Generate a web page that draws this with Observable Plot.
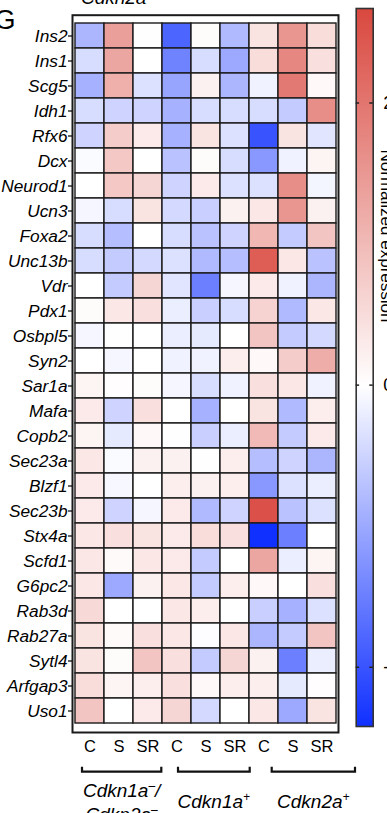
<!DOCTYPE html>
<html><head><meta charset="utf-8">
<script src="https://cdn.jsdelivr.net/npm/d3@7"></script>
<script src="https://cdn.jsdelivr.net/npm/@observablehq/plot@0.6"></script>
<style>
html,body{margin:0;padding:0;background:#fff;overflow:hidden;}
#wrap{position:relative;width:387px;height:813px;overflow:hidden;font-family:"Liberation Sans",Arial,sans-serif;}
#wrap svg{position:absolute;left:0;top:0;overflow:visible;}
</style></head><body><div id="wrap"></div>
<script>
// ---- data ----
const genes = ["Ins2","Ins1","Scg5","Idh1","Rfx6","Dcx","Neurod1","Ucn3","Foxa2","Unc13b","Vdr","Pdx1","Osbpl5","Syn2","Sar1a","Mafa","Copb2","Sec23a","Blzf1","Sec23b","Stx4a","Scfd1","G6pc2","Rab3d","Rab27a","Sytl4","Arfgap3","Uso1"];
const conditions = ["C","S","SR"];
const groupNames = [["Cdkn1a","-","/"],["Cdkn1a","+",""],["Cdkn2a","+",""]];
const groupLine2 = [["Cdkn2a","-"],null,null];
const topCutLabel = ["Cdkn2a","-"];
const panelLetter = "G";
const legendTicks = [-2, 0, 2];
const legendTitle = "Normalized expression";
const colorMin = -2.42, colorMax = 2.67;
// z-scores: columns = C,S,SR for Cdkn1a-/Cdkn2a-, Cdkn1a+, Cdkn2a+
const zscores = [
 [-0.85, 1.40, 0.02, -1.80, 0.05, -0.80, 0.40, 1.55, 0.50],  // Ins2
 [-0.40, 1.30, 0.00, -1.45, -0.40, -1.00, 0.50, 1.75, 0.45], // Ins1
 [-0.90, 1.15, -0.35, -1.05, 0.20, -0.85, -0.15, 1.95, 0.10],// Scg5
 [-0.40, -0.50, -0.50, -0.90, -0.40, -0.40, -0.40, -0.60, 1.65], // Idh1
 [-0.50, 0.75, 0.30, -0.90, 0.40, -0.35, -2.00, 0.40, -0.30], // Rfx6
 [-0.05, 0.80, 0.00, -0.70, 0.05, -0.40, -1.20, -0.15, 0.15], // Dcx
 [0.00, 0.80, 0.60, -0.50, 0.30, -0.35, -0.35, 1.65, -0.12], // Neurod1
 [-0.10, -0.40, 0.40, -0.45, -0.55, 0.20, 0.35, 1.55, 0.20], // Ucn3
 [-0.40, -0.75, 0.00, -0.40, -0.70, -0.50, 1.05, -0.60, 0.85], // Foxa2
 [-0.40, -0.60, -0.45, -0.35, -0.80, -0.75, 2.35, 0.35, -0.70], // Unc13b
 [0.00, -0.60, 0.60, -0.30, -1.50, -0.10, 0.30, -0.15, -0.85], // Vdr
 [0.05, 0.35, 0.45, -0.20, -0.55, -0.40, 0.65, -0.80, 0.35], // Pdx1
 [-0.10, 0.02, 0.00, -0.20, -0.25, 0.00, 0.85, -0.60, -0.45], // Osbpl5
 [0.00, -0.10, 0.00, -0.15, -0.15, 0.25, 0.10, 0.75, 1.20], // Syn2
 [0.15, 0.03, 0.05, -0.10, -0.40, -0.15, 0.45, 0.35, -0.15], // Sar1a
 [0.30, -0.50, 0.45, 0.00, -0.90, 0.00, 0.40, -0.80, 0.25], // Mafa
 [0.15, -0.25, 0.10, 0.02, -0.55, -0.20, 1.00, -0.60, 0.30], // Copb2
 [0.35, -0.05, 0.20, 0.20, 0.02, 0.25, -0.75, -0.50, -0.85], // Sec23a
 [0.30, -0.08, 0.00, 0.25, 0.20, 0.25, -1.20, -0.35, -0.20], // Blzf1
 [0.30, -0.50, -0.10, 0.30, -0.80, -0.50, 2.55, -0.70, -0.35], // Sec23b
 [0.35, 0.45, 0.40, 0.30, 0.50, 0.45, -2.42, -1.50, 0.00], // Stx4a
 [0.35, 0.08, 0.35, 0.30, -0.60, 0.00, 1.30, -0.20, 0.15], // Scfd1
 [0.35, -1.00, 0.20, 0.35, -0.60, 0.25, 0.10, 0.00, 0.45], // G6pc2
 [0.55, 0.00, 0.00, 0.35, 0.25, 0.00, -0.55, -0.90, -0.35], // Rab3d
 [0.40, 0.08, 0.45, 0.35, -0.02, 0.35, -0.85, -0.60, 0.85], // Rab27a
 [0.40, 0.05, 0.85, 0.45, -0.60, 0.60, 0.20, -1.50, -0.20], // Sytl4
 [0.50, 0.15, 0.25, 0.45, 0.10, 0.25, 0.25, -0.25, 0.03], // Arfgap3
 [0.85, 0.00, 0.30, 0.60, -0.45, 0.00, 0.35, -1.00, 0.40]  // Uso1
];

// ---- build ----
const font = '"Liberation Sans", Arial, sans-serif';
const colKeys = groupNames.flatMap((g, gi) => conditions.map(c => c + "|" + gi));
const colLabel = d => d.split("|")[0];
const cells = genes.flatMap((g, i) => zscores[i].map((z, j) => ({gene: g, col: colKeys[j], z})));
const colorOpts = {type: "linear", domain: [colorMin, 0, colorMax], range: ["#1030ff", "#ffffff", "#d9483f"], clamp: true};

const main = Plot.plot({
  width: 387, height: 813,
  marginLeft: 72, marginRight: 49, marginTop: 14.7, marginBottom: 81,
  style: {fontFamily: font, background: "transparent", color: "#000"},
  x: {type: "band", domain: colKeys, padding: 0, label: null},
  y: {type: "band", domain: genes, padding: 0, label: null},
  color: colorOpts,
  marks: [
    Plot.cell(cells, {x: "col", y: "gene", fill: "z", stroke: "#1b1b1b", strokeWidth: 1.4}),
    Plot.frame({stroke: "#1b1b1b", strokeWidth: 2}),
    Plot.axisY({tickSize: 4, tickPadding: 1, fontSize: 17.3, fontStyle: "italic", strokeWidth: 1.2}),
    Plot.axisX({tickSize: 0, tickPadding: 8, fontSize: 16.5, tickFormat: colLabel})
  ]
});

const leg = Plot.plot({
  width: 387, height: 813,
  marginLeft: 355.7, marginRight: 14.3, marginTop: 8, marginBottom: 87,
  style: {fontFamily: font, background: "transparent", color: "#000"},
  x: {domain: [0, 1], axis: null},
  y: {domain: [colorMin, colorMax], axis: null},
  color: colorOpts,
  marks: [
    Plot.raster({fill: (x, y) => y, x1: 0, x2: 1, y1: colorMin, y2: colorMax, imageRendering: "auto"}),
    Plot.frame({stroke: "#333", strokeWidth: 1.6}),
    Plot.ruleY(legendTicks, {y: d => d, x1: 0, x2: 0.2, stroke: "#222", strokeWidth: 1.5}),
    Plot.ruleY(legendTicks, {y: d => d, x1: 0.8, x2: 1, stroke: "#222", strokeWidth: 1.5}),
    Plot.text(legendTicks, {y: d => d, frameAnchor: "right", dx: 10, textAnchor: "start", fontSize: 18, text: d => d < 0 ? "-" + Math.abs(d) : String(d)})
  ]
});

const wrap = document.getElementById("wrap");
wrap.appendChild(main);
wrap.appendChild(leg);

d3.select(main).selectAll('g[aria-label="y-axis tick label"] text').style("font-style", "italic");

const svg = d3.select(main);
const xs = main.scale("x");
const bw = xs.bandwidth;
// bracket layout offsets (pixels) relative to group band edges
const bracketOffsets = [[7, -0.7], [16, 0.7], [22.7, 19]];
const bracketY = 771.7;
function addLabel(g, x, y, parts) {
  const t = g.append("text").attr("x", x).attr("y", y).attr("text-anchor", "middle")
    .attr("font-size", 19).attr("font-style", "italic").attr("font-family", font).attr("fill", "#000");
  t.append("tspan").text(parts[0]);
  t.append("tspan").attr("font-size", 12).attr("dy", -7).text(parts[1] === "-" ? "\u2013" : parts[1]);
  if (parts[2]) t.append("tspan").attr("font-size", 19).attr("dy", 7).text(parts[2]);
}
const ann = svg.append("g");
groupNames.forEach((g, gi) => {
  const first = colKeys[gi * 3], last = colKeys[gi * 3 + 2];
  const x1 = xs.apply(first) + bracketOffsets[gi][0];
  const x2 = xs.apply(last) + bw + bracketOffsets[gi][1];
  ann.append("path").attr("d", `M${x1},${bracketY - 5}V${bracketY}H${x2}V${bracketY - 5}`)
    .attr("fill", "none").attr("stroke", "#111").attr("stroke-width", 2.2);
  const cx = (x1 + x2) / 2;
  if (groupLine2[gi]) {
    addLabel(ann, cx, 797, g);
    addLabel(ann, cx, 821, groupLine2[gi]);
  } else {
    addLabel(ann, cx, 808, g);
  }
});
addLabel(ann, 117, 4, topCutLabel);
ann.append("text").attr("x", 5).attr("y", 29).attr("font-size", 27).attr("font-family", font).text(panelLetter);
d3.select(leg).append("text").attr("transform", "translate(381,236) rotate(90)")
  .attr("font-size", 17).attr("font-family", font).text(legendTitle);
</script>
</body></html>
